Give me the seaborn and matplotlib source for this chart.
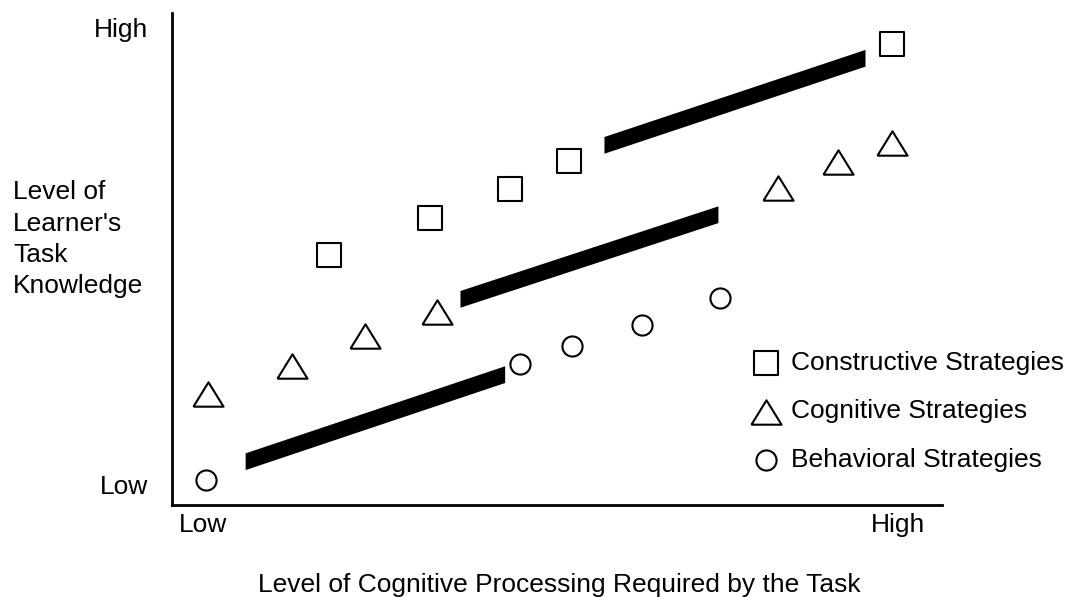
import matplotlib
matplotlib.use("Agg")
import matplotlib.pyplot as plt
import seaborn as sns
import pandas as pd

# ---- data (0-100 scale, Low..High) ----
square_x = [20.4, 33.5, 43.9, 51.6, 93.5]
square_y = [50.8, 58.3, 64.2, 69.9, 93.7]

tri_x = [4.7, 15.6, 25.1, 34.4, 78.7, 86.5, 93.5]
tri_y = [22.6, 28.3, 34.3, 39.2, 64.4, 69.7, 73.6]

circ_x = [4.4, 45.2, 51.9, 61.0, 71.2]
circ_y = [5.1, 28.7, 32.3, 36.6, 42.1]

# thick trend bars: start and end points
bar_x = [[9.5, 43.2], [37.4, 70.9], [56.1, 90.0]]
bar_y = [[8.9, 26.6], [41.9, 59.1], [73.2, 90.9]]
bar_half = 1.7

labels = ["Constructive Strategies", "Cognitive Strategies", "Behavioral Strategies"]
x_ticks = [4.0, 94.3]
y_ticks = [4.1, 97.1]
tick_labels = ["Low", "High"]

sns.set_style("white")
plt.rcParams['font.family'] = ['Liberation Sans', 'DejaVu Sans']
plt.rcParams['text.color'] = 'black'
plt.rcParams['xtick.color'] = 'black'
plt.rcParams['ytick.color'] = 'black'
plt.rcParams['axes.labelcolor'] = 'black'

fig = plt.figure(figsize=(10.75, 5.97), dpi=100)
ax = fig.add_axes([172/1075, 1 - 505/597, 770/1075, 492/597])

# thick bars with vertical ends
for bx, by in zip(bar_x, bar_y):
    lo = [v - bar_half for v in by]
    hi = [v + bar_half for v in by]
    ax.fill_between(bx, lo, hi, color="black", linewidth=0)

tri_marker = [(-1, -0.81), (1, -0.81), (0, 0.81), (-1, -0.81)]

df_sq = pd.DataFrame({"x": square_x, "y": square_y})
df_tr = pd.DataFrame({"x": tri_x, "y": tri_y})
df_ci = pd.DataFrame({"x": circ_x, "y": circ_y})

common = dict(facecolor="white", edgecolor="black", linewidth=1.5, zorder=3)
sns.scatterplot(data=df_sq, x="x", y="y", marker="s", s=275, label=labels[0], ax=ax, **common)
sns.scatterplot(data=df_tr, x="x", y="y", marker=tri_marker, s=470, label=labels[1], ax=ax, **common)
sns.scatterplot(data=df_ci, x="x", y="y", marker="o", s=210, label=labels[2], ax=ax, **common)

ax.set_xlim(0, 100)
ax.set_ylim(0, 100)

for side in ["top", "right"]:
    ax.spines[side].set_visible(False)
for side in ["left", "bottom"]:
    ax.spines[side].set_color("black")
    ax.spines[side].set_linewidth(2)

ax.set_xticks(x_ticks, tick_labels, fontsize=19)
ax.set_yticks(y_ticks, tick_labels, fontsize=19)
ax.tick_params(axis="x", length=0, pad=6)
ax.tick_params(axis="y", length=0, pad=17)

ax.set_xlabel("Level of Cognitive Processing Required by the Task", fontsize=19)
ax.xaxis.set_label_coords(0.503, -0.163)
ax.xaxis.label.set_va("center")

ax.set_ylabel("Level of\nLearner's\nTask\nKnowledge", fontsize=19, rotation=0,
              ha="left", va="center", multialignment="left", linespacing=1.38)
ax.yaxis.set_label_coords(-0.2065, 0.54)

leg = ax.legend(loc="upper left", bbox_to_anchor=(737/1075, 1 - 338/597),
                bbox_transform=fig.transFigure, frameon=False, fontsize=19,
                handletextpad=0.35, labelspacing=0.92, borderpad=0,
                handlelength=1.2)

fig.savefig("out.png", dpi=100)
